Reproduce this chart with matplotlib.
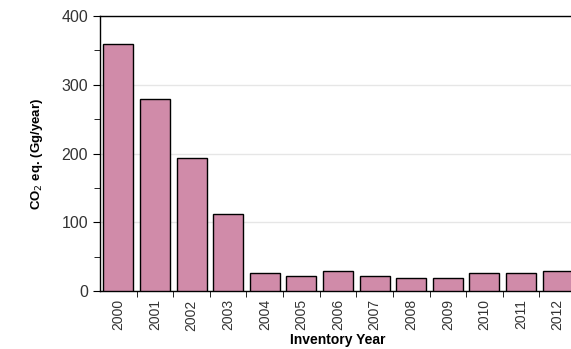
import numpy as np
import matplotlib

matplotlib.use("Agg")
import matplotlib.pyplot as plt  # noqa: E402
from matplotlib.ticker import MultipleLocator, FixedLocator  # noqa: E402

plt.rcParams["font.family"] = ["Liberation Sans", "DejaVu Sans"]

years = ["2000", "2001", "2002", "2003", "2004", "2005", "2006",
         "2007", "2008", "2009", "2010", "2011", "2012"]
emissions = [359, 279, 193, 112, 26, 22, 29, 22, 19, 19, 26, 26, 29]

fig = plt.figure(figsize=(5.71, 3.49), dpi=100)
ax = fig.add_axes([100 / 571, 58 / 349, 476 / 571, 275 / 349])

x = np.arange(len(years))
ax.bar(x, emissions, width=0.82, color="#d08ba9", edgecolor="black",
       linewidth=1.0, zorder=3)

ax.set_xlim(-0.5, len(years) - 0.5)
ax.set_ylim(0, 400)
ax.yaxis.set_major_locator(MultipleLocator(100))
ax.yaxis.set_minor_locator(MultipleLocator(50))
ax.grid(axis="y", color="#e6e6e6", linewidth=1.0, zorder=0)

# category labels centred on bars, tick marks on the boundaries
ax.set_xticks(x)
ax.set_xticklabels(years, rotation=90, fontsize=10, color="#333333")
ax.tick_params(axis="x", which="major", length=0, pad=6)
ax.xaxis.set_minor_locator(FixedLocator(np.arange(0.5, len(years) - 0.5, 1)))
ax.tick_params(axis="x", which="minor", length=4, direction="out")
ax.tick_params(axis="y", which="major", length=5, labelsize=11.5,
               labelcolor="#333333")
ax.tick_params(axis="y", which="minor", length=4)

ax.spines["right"].set_visible(False)
for s in ["top", "left", "bottom"]:
    ax.spines[s].set_linewidth(1.0)

ax.set_ylabel("CO$_2$ eq. (Gg/year)", fontsize=9.5, fontweight="bold",
              labelpad=12)
ax.set_xlabel("Inventory Year", fontsize=10, fontweight="bold", labelpad=2)

fig.savefig("out.png", dpi=100)
